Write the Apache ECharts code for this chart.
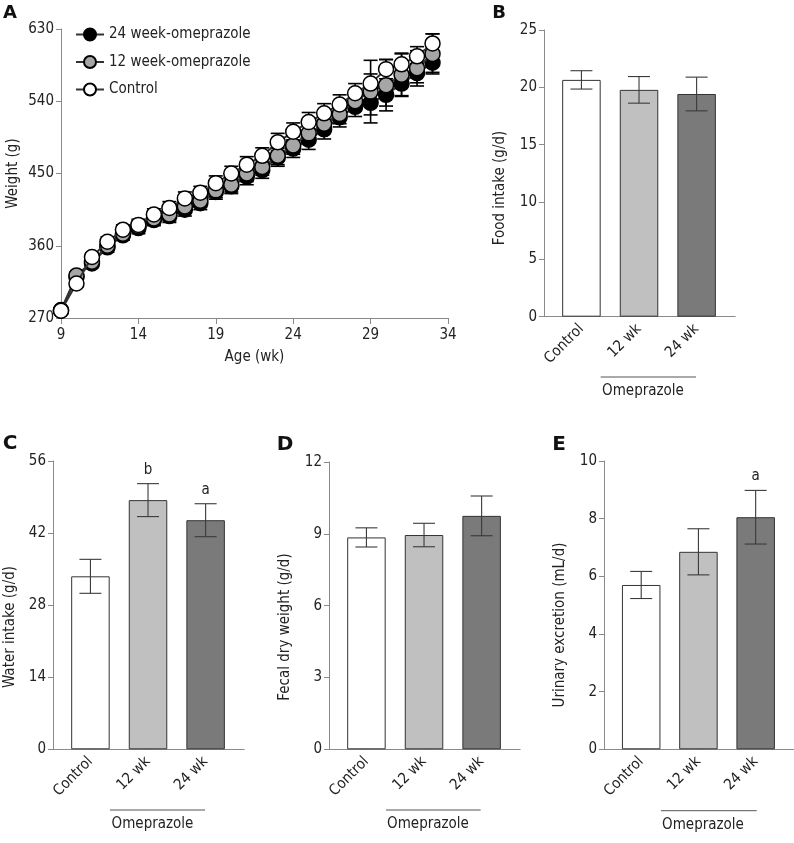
<!DOCTYPE html>
<html>
<head>
<meta charset="utf-8">
<script src="https://cdn.jsdelivr.net/npm/echarts@6/dist/echarts.min.js"></script>
<style>
html,body{margin:0;padding:0;background:#fff;}
#chart{width:794px;height:843px;}
</style>
</head>
<body>
<div id="chart"></div>
<script>
// ---------------- DATA ----------------
const weeks = [9,10,11,12,13,14,15,16,17,18,19,20,21,22,23,24,25,26,27,28,29,30,31,32,33];
const controlWeight = [279,313,346,365,380,386,399,407,419,426,438,450,461,472,489,502,514,525,536,550,562,580,586,596,612];
const omep12Weight  = [280,323,340,360,375,384,394,399,409,416,429,436,450,458,472,485,500,512,524,540,552,560,573,581,599];
const omep24Weight  = [279,321,338,358,373,382,392,397,405,413,427,434,446,454,470,481,492,505,520,533,538,548,562,575,588];
const controlSem = [3,4,5,6,6,7,7,8,8,8,9,9,10,10,11,11,12,12,12,12,12,12,13,12,12];
const omep12Sem  = [3,4,5,6,6,7,7,8,8,8,9,9,10,10,11,11,12,12,12,12,39,32,27,22,25];
const omep24Sem  = [3,4,5,6,6,7,7,8,8,8,9,9,10,10,11,11,12,12,12,12,15,14,15,12,12];
const seriesNamesA = ['24 week-omeprazole','12 week-omeprazole','Control'];
const weekTicks = [9,14,19,24,29,34];

const barCategories = ['Control','12 wk','24 wk'];
const foodIntake = [20.65, 19.78, 19.42];
const foodSem    = [0.80, 1.16, 1.47];
const waterIntake = [33.6, 48.4, 44.5];
const waterSem    = [3.3, 3.2, 3.2];
const waterSig    = ['', 'b', 'a'];
const fecalWeight = [8.85, 8.95, 9.75];
const fecalSem    = [0.40, 0.49, 0.83];
const urinaryExcretion = [5.70, 6.85, 8.05];
const urinarySem       = [0.47, 0.80, 0.93];
const urinarySig       = ['', '', 'a'];

// ---------------- STYLE ----------------
const FONT = '"DejaVu Sans Condensed", "DejaVu Sans", sans-serif';
const AXIS_COLOR = '#8a8a8a';
const TEXT_COLOR = '#222';
const barFill = ['#ffffff', '#c0c0c0', '#7a7a7a'];
const dotFill = ['#000000', '#a6a6a6', '#ffffff'];

const chart = echarts.init(document.getElementById('chart'), null, {renderer:'canvas'});

function errorRenderer(capHalf, color, lw, sigs) {
  return function (params, api) {
    const x = api.value(0), m = api.value(1), s = api.value(2);
    const top = api.coord([x, m + s]);
    const bot = api.coord([x, m - s]);
    const st = {stroke: color, lineWidth: lw};
    const children = [
      {type:'line', shape:{x1:top[0], y1:top[1], x2:bot[0], y2:bot[1]}, style:st},
      {type:'line', shape:{x1:top[0]-capHalf, y1:top[1], x2:top[0]+capHalf, y2:top[1]}, style:st},
      {type:'line', shape:{x1:bot[0]-capHalf, y1:bot[1], x2:bot[0]+capHalf, y2:bot[1]}, style:st}
    ];
    if (sigs && sigs[params.dataIndex]) {
      children.push({type:'text', x: top[0], y: top[1] - 14,
        style:{text: sigs[params.dataIndex], align:'center', verticalAlign:'middle',
               font: '15px ' + FONT, fill: TEXT_COLOR}});
    }
    return {type:'group', children};
  };
}

// grids: A, B, C, D, E
const BAR_MIN = -0.65, BAR_MAX = 2.67, BAR_W = 191.2;
const grids = [
  {left:61, top:29, width:387, height:289},
  {left:544, top:30, width:BAR_W, height:286.7},
  {left:53, top:461, width:BAR_W, height:288.3},
  {left:329, top:462, width:BAR_W, height:287.3},
  {left:604, top:461, width:BAR_W, height:288.3}
];

const axisLineStyle = {show:true, onZero:false, lineStyle:{color:AXIS_COLOR, width:1}};

const xAxes = [
  {
    gridIndex:0, type:'value', min:9, max:34,
    axisLine: axisLineStyle, splitLine:{show:false},
    axisTick:{show:true, length:6, customValues: weekTicks, lineStyle:{color:AXIS_COLOR}},
    axisLabel:{color:TEXT_COLOR, fontFamily:FONT, fontSize:15, margin:10, customValues: weekTicks},
    name:'Age (wk)', nameLocation:'middle', nameGap:32,
    nameTextStyle:{color:TEXT_COLOR, fontFamily:FONT, fontSize:15}
  }
];
for (let g = 1; g <= 4; g++) {
  xAxes.push({
    gridIndex:g, type:'value', min:BAR_MIN, max:BAR_MAX,
    axisLine: axisLineStyle, splitLine:{show:false},
    axisTick:{show:true, inside:true, length:6, customValues:[0,1,2], lineStyle:{color:AXIS_COLOR}},
    axisLabel:{color:TEXT_COLOR, fontFamily:FONT, fontSize:15, margin:10, rotate:45,
      customValues:[0,1,2], formatter: v => barCategories[Math.round(v)]}
  });
}

function yAx(g, min, max, interval, extra) {
  return Object.assign({
    gridIndex:g, type:'value', min, max, interval,
    axisLine: axisLineStyle, splitLine:{show:false},
    axisTick:{show:true, length:5, lineStyle:{color:AXIS_COLOR}},
    axisLabel:{color:TEXT_COLOR, fontFamily:FONT, fontSize:15, margin:7}
  }, extra || {});
}
const yAxes = [
  yAx(0, 270, 630, 90, {name:'Weight (g)', nameLocation:'middle', nameGap:40,
      nameTextStyle:{color:TEXT_COLOR, fontFamily:FONT, fontSize:15}}),
  yAx(1, 0, 25, 5),
  yAx(2, 0, 56, 14),
  yAx(3, 0, 12, 3),
  yAx(4, 0, 10, 2)
];

const series = [];
// Panel A error bars (drawn under markers)
const weightSets = [omep24Weight, omep12Weight, controlWeight];
const semSets = [omep24Sem, omep12Sem, controlSem];
weightSets.forEach((vals, k) => {
  series.push({
    type:'custom', xAxisIndex:0, yAxisIndex:0, z:1, silent:true,
    renderItem: errorRenderer(7, '#000', 1.6),
    encode:{x:0, y:1},
    data: weeks.map((w, i) => [w, vals[i], semSets[k][i]])
  });
});
weightSets.forEach((vals, k) => {
  series.push({
    name: seriesNamesA[k], type:'line', xAxisIndex:0, yAxisIndex:0, z:3 + k,
    symbol:'circle', symbolSize:15, showSymbol:true,
    itemStyle:{color: dotFill[k], borderColor:'#000', borderWidth:1.5},
    lineStyle:{color:'#333', width:2},
    emphasis:{disabled:true},
    data: weeks.map((w, i) => [w, vals[i]])
  });
});

// Bar panels
const barSets = [
  {g:1, vals:foodIntake, sem:foodSem, sig:null},
  {g:2, vals:waterIntake, sem:waterSem, sig:waterSig},
  {g:3, vals:fecalWeight, sem:fecalSem, sig:null},
  {g:4, vals:urinaryExcretion, sem:urinarySem, sig:urinarySig}
];
barSets.forEach(b => {
  series.push({
    type:'bar', xAxisIndex:b.g, yAxisIndex:b.g, barWidth:38.5, z:2,
    emphasis:{disabled:true},
    data: barCategories.map((c, i) => ({value:[i, b.vals[i]],
      itemStyle:{color: barFill[i], borderColor:'#333', borderWidth:1}}))
  });
  series.push({
    type:'custom', xAxisIndex:b.g, yAxisIndex:b.g, z:5, silent:true,
    renderItem: errorRenderer(11, '#3a3a3a', 1.1, b.sig),
    encode:{x:0, y:1},
    data: barCategories.map((c, i) => [i, b.vals[i], b.sem[i]])
  });
});

// Annotations (panel letters, y-axis titles of bar panels, Omeprazole group lines)
const graphics = [];
const letters = [['A',10,13.5,18],['B',499,13.5,18],['C',10,443.5,20],['D',285,445,20],['E',559,444.5,20]];
letters.forEach(([t,x,y,s]) => graphics.push({type:'text', x, y, style:{text:t, align:'center',
  verticalAlign:'middle', font:'bold ' + s + 'px "DejaVu Sans", sans-serif', fill:'#111'}}));
const yTitles = [['Food intake (g/d)',500,188],['Water intake (g/d)',10,627],
                 ['Fecal dry weight (g/d)',285.5,627],['Urinary excretion (mL/d)',560,625]];
yTitles.forEach(([t,x,y]) => graphics.push({type:'text', x, y, rotation:Math.PI/2,
  style:{text:t, align:'center', verticalAlign:'middle', font:'15px ' + FONT, fill:TEXT_COLOR}}));
const groupLines = [[600.7,696,377,643,391],[110,205,810,152.5,824],[386,480.7,810,428,824],[661,756.7,810.7,703,825]];
groupLines.forEach(([x1,x2,y,tx,ty]) => {
  graphics.push({type:'line', shape:{x1, y1:y, x2, y2:y}, style:{stroke:'#555', lineWidth:1}});
  graphics.push({type:'text', x:tx, y:ty, style:{text:'Omeprazole', align:'center', verticalAlign:'middle',
    font:'15px ' + FONT, fill:TEXT_COLOR}});
});

chart.setOption({
  animation:false,
  backgroundColor:'#fff',
  grid: grids,
  xAxis: xAxes,
  yAxis: yAxes,
  legend:{
    data: seriesNamesA, orient:'vertical', left:70, top:22,
    itemWidth:28, itemHeight:15, itemGap:12.5,
    textStyle:{color:TEXT_COLOR, fontFamily:FONT, fontSize:15},
    selectedMode:false
  },
  graphic: graphics,
  series
});
</script>
</body>
</html>
